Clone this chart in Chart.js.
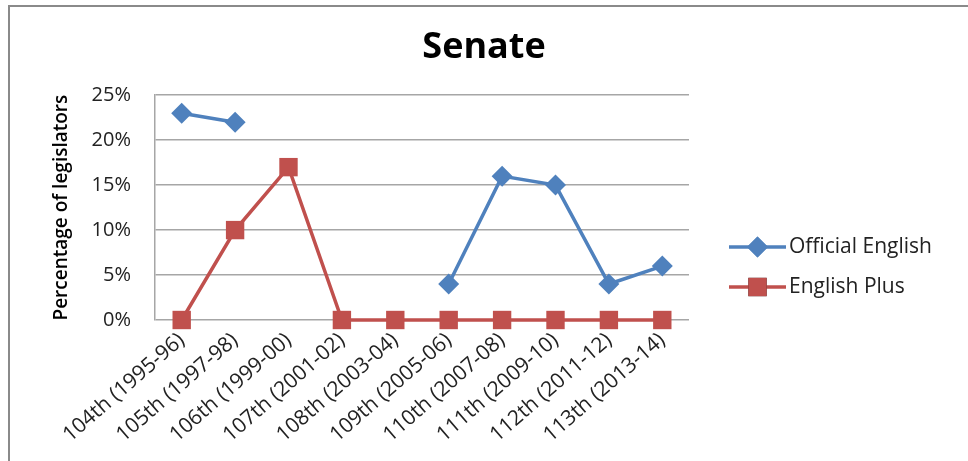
<!DOCTYPE html>
<html>
<head>
<meta charset="utf-8">
<script src="https://cdn.jsdelivr.net/npm/chart.js@4"></script>
<style>
  html, body { margin: 0; padding: 0; background: #fff; }
  #wrap { position: relative; width: 968px; height: 461px; }
</style>
</head>
<body>
<div id="wrap"><canvas id="senateChart" width="968" height="461"></canvas></div>
<script>
const congresses = [
  "104th (1995-96)",
  "105th (1997-98)",
  "106th (1999-00)",
  "107th (2001-02)",
  "108th (2003-04)",
  "109th (2005-06)",
  "110th (2007-08)",
  "111th (2009-10)",
  "112th (2011-12)",
  "113th (2013-14)",
];
const officialEnglish = [23, 22, null, null, null, 4, 16, 15, 4, 6];
const englishPlus = [0, 10, 17, 0, 0, 0, 0, 0, 0, 0];
const yTickValues = [0, 5, 10, 15, 20, 25];

const BLUE = "#4F81BD";
const RED = "#C0504D";
const FONT = "'Open Sans', 'Liberation Sans', sans-serif";

// outer frame, top and left edge only
const framePlugin = {
  id: "frame",
  beforeDraw(chart) {
    const ctx = chart.ctx;
    ctx.save();
    ctx.fillStyle = "#8a8a8a";
    ctx.fillRect(8, 5, chart.width - 8, 2);
    ctx.fillRect(8, 5, 2, chart.height - 5);
    ctx.restore();
  },
};

// legend drawn as line + marker samples, like the series themselves
const sideLegend = {
  id: "sideLegend",
  afterDraw(chart) {
    const ctx = chart.ctx;
    const x0 = 729, x1 = 786;
    const rows = [247, 287];
    ctx.save();
    chart.data.datasets.forEach((ds, i) => {
      const y = rows[i];
      ctx.strokeStyle = ds.borderColor;
      ctx.lineWidth = ds.borderWidth;
      ctx.beginPath();
      ctx.moveTo(x0, y);
      ctx.lineTo(x1, y);
      ctx.stroke();
      Chart.helpers.drawPoint(ctx, {
        pointStyle: ds.pointStyle,
        radius: ds.pointRadius,
        borderWidth: 0,
      }, (x0 + x1) / 2, y);
      ctx.fillStyle = ds.backgroundColor;
      ctx.fill();
      ctx.fillStyle = "#222";
      ctx.font = "21px " + FONT;
      ctx.textBaseline = "middle";
      ctx.textAlign = "left";
      ctx.fillText(ds.label, x1 + 3, y);
    });
    ctx.restore();
  },
};

new Chart(document.getElementById("senateChart"), {
  type: "line",
  data: {
    labels: congresses,
    datasets: [
      {
        label: "Official English",
        data: officialEnglish,
        borderColor: BLUE,
        backgroundColor: BLUE,
        borderWidth: 3.5,
        pointStyle: "rectRot",
        pointRadius: 10.5,
        pointBorderWidth: 0,
        pointBackgroundColor: BLUE,
        spanGaps: false,
        tension: 0,
        clip: false,
      },
      {
        label: "English Plus",
        data: englishPlus,
        borderColor: RED,
        backgroundColor: RED,
        borderWidth: 3.5,
        pointStyle: "rect",
        pointRadius: 13,
        pointBorderWidth: 0,
        pointBackgroundColor: RED,
        tension: 0,
        clip: false,
      },
    ],
  },
  options: {
    responsive: false,
    animation: false,
    layout: {
      padding: 0,
    },
    plugins: {
      legend: { display: false },
      tooltip: { enabled: false },
      title: {
        display: true,
        text: "Senate",
        color: "#000",
        font: { family: FONT, size: 36, weight: "bold", lineHeight: 1.2 },
        padding: { top: 26, bottom: 26 },
      },
    },
    scales: {
      x: {
        offset: true,
        grid: { display: false, drawTicks: false },
        border: { display: false },
        ticks: {
          color: "#222",
          font: { family: FONT, size: 21 },
          minRotation: 41,
          maxRotation: 41,
          padding: 8,
          autoSkip: false,
        },
        afterFit(scale) {
          scale.height = 141;
        },
      },
      y: {
        min: 0,
        max: 25,
        afterBuildTicks(scale) {
          scale.ticks = yTickValues.map((v) => ({ value: v }));
        },
        grid: { color: "#a6a6a6", lineWidth: 1.5, drawTicks: false },
        border: { display: true, color: "#a6a6a6", width: 1.5 },
        ticks: {
          color: "#222",
          font: { family: FONT, size: 20 },
          padding: 24,
          callback: (v) => v + "%",
        },
        title: {
          display: true,
          text: "Percentage of legislators",
          color: "#000",
          font: { family: FONT, size: 19, weight: 600 },
          padding: { top: 50, bottom: 0 },
        },
        afterFit(scale) {
          scale.width = 155;
        },
      },
      // empty right-hand box that keeps room for the legend
      legendSpace: {
        type: "linear",
        position: "right",
        grid: { display: false, drawTicks: false },
        border: { display: false },
        ticks: { display: false },
        afterFit(scale) {
          scale.width = 279;
        },
      },
    },
  },
  plugins: [framePlugin, sideLegend],
});
</script>
</body>
</html>
